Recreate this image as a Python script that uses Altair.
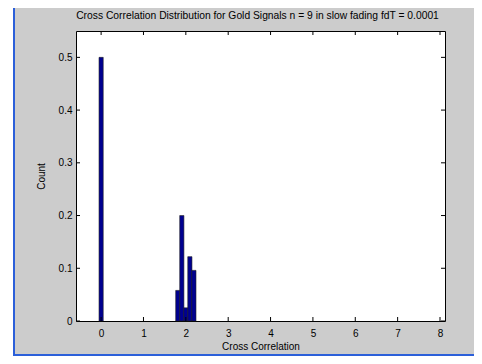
import altair as alt
import pandas as pd

# Data
x_centers = [0.0, 1.81, 1.905, 2.0, 2.095, 2.19]
counts = [0.5, 0.058, 0.2, 0.025, 0.122, 0.096]
x_ticks = [0, 1, 2, 3, 4, 5, 6, 7, 8]
y_ticks = [0, 0.1, 0.2, 0.3, 0.4, 0.5]

title_text = "Cross Correlation Distribution for Gold Signals n = 9 in slow fading fdT = 0.0001"
FONT = "Liberation Sans"

W, H = 369, 290
x_scale = alt.Scale(domain=[-0.475, 8], nice=False, zero=False)
y_scale = alt.Scale(domain=[0, 0.55], nice=False)

bars_df = pd.DataFrame({"x": x_centers, "y": counts})
xt_df = pd.DataFrame({"x": x_ticks})
yt_df = pd.DataFrame({"y": y_ticks})
one = pd.DataFrame({"t": [title_text]})

bars = alt.Chart(bars_df).mark_bar(
    width=4.2, color="#000090", stroke="#222222", strokeWidth=0.6
).encode(
    x=alt.X("x:Q", scale=x_scale,
            axis=alt.Axis(values=x_ticks, ticks=False, domain=False, grid=False,
                          title="Cross Correlation", labelPadding=7, titlePadding=3,
                          labelFontSize=10, titleFontSize=10, titleFontWeight="normal",
                          labelFont=FONT, titleFont=FONT, labelColor="#000000",
                          titleColor="#000000", format="d")),
    y=alt.Y("y:Q", scale=y_scale,
            axis=alt.Axis(values=y_ticks, ticks=False, domain=False, grid=False,
                          title="Count", labelPadding=4, titlePadding=12,
                          labelFontSize=10, titleFontSize=10, titleFontWeight="normal",
                          labelFont=FONT, titleFont=FONT, labelColor="#000000",
                          titleColor="#000000", format=".1~f", labelFlush=False)),
)

# inward ticks on all four sides
xt_bottom = alt.Chart(xt_df).mark_rule(color="black", strokeWidth=1).encode(
    x=alt.X("x:Q", scale=x_scale), y=alt.value(H - 4), y2=alt.value(H))
xt_top = alt.Chart(xt_df).mark_rule(color="black", strokeWidth=1).encode(
    x=alt.X("x:Q", scale=x_scale), y=alt.value(0), y2=alt.value(4))
yt_left = alt.Chart(yt_df).mark_rule(color="black", strokeWidth=1).encode(
    y=alt.Y("y:Q", scale=y_scale), x=alt.value(0), x2=alt.value(4))
yt_right = alt.Chart(yt_df).mark_rule(color="black", strokeWidth=1).encode(
    y=alt.Y("y:Q", scale=y_scale), x=alt.value(W - 4), x2=alt.value(W))

# chart title as a text mark, centred over the axes
title = alt.Chart(one).mark_text(
    font=FONT, fontSize=10.3, color="#000000", align="center", baseline="middle"
).encode(text="t:N", x=alt.value(W / 2 - 3), y=alt.value(-15))

# window frame decoration (white strip + blue borders)
white_strip = alt.Chart(one).mark_rect(color="white").encode(
    x=alt.value(-68), x2=alt.value(-63), y=alt.value(-23), y2=alt.value(H + 35))
blue_left = alt.Chart(one).mark_rect(color="#2b5fd9").encode(
    x=alt.value(-63), x2=alt.value(-61), y=alt.value(-23), y2=alt.value(H + 35))
blue_bottom = alt.Chart(one).mark_rect(color="#2b5fd9").encode(
    x=alt.value(-63), x2=alt.value(W + 29), y=alt.value(H + 33), y2=alt.value(H + 35))

chart = alt.layer(
    white_strip, blue_left, blue_bottom, bars, xt_bottom, xt_top, yt_left, yt_right, title
).properties(
    width=W, height=H,
    autosize=alt.AutoSizeParams(type="none"),
    padding={"left": 68, "top": 23, "right": 29, "bottom": 35},
    background="#cccccc",
).configure_view(
    fill="white", stroke="black", strokeWidth=1
)

chart.save("out.html", embed_options={"renderer": "svg", "actions": False})
